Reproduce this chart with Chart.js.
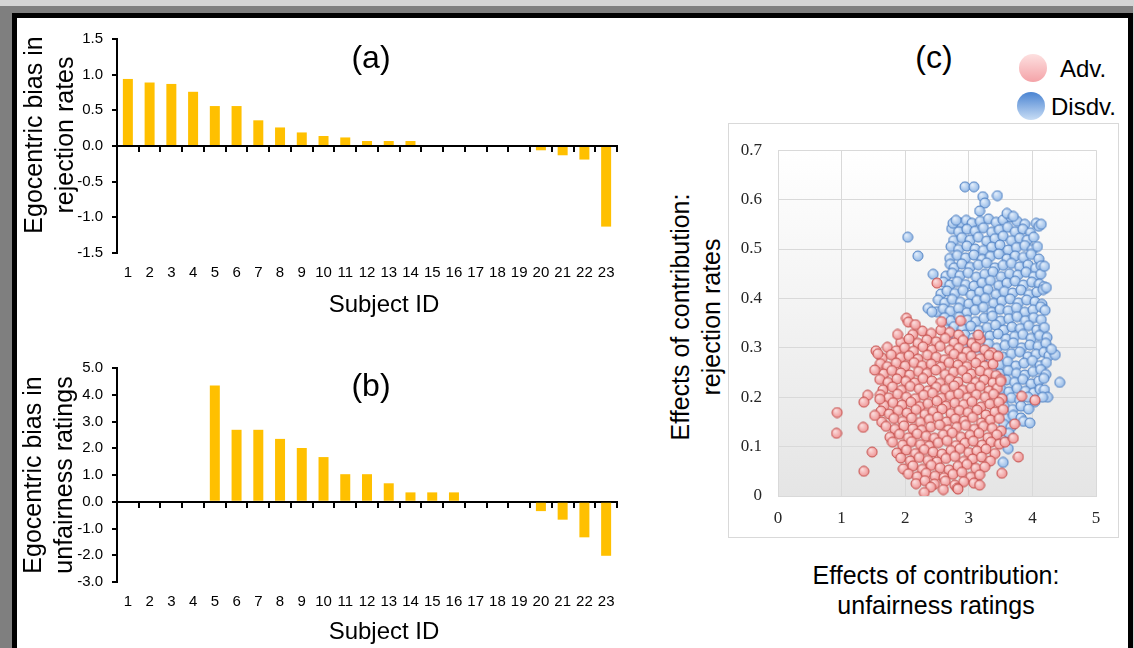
<!DOCTYPE html>
<html>
<head>
<meta charset="utf-8">
<script src="https://cdn.jsdelivr.net/npm/chart.js@4.4.1/dist/chart.umd.min.js"></script>
<style>
  html, body { margin: 0; padding: 0; }
  body { width: 1134px; height: 648px; overflow: hidden; position: relative; background: #7f7f7f; font-family: "Liberation Sans", Arial, sans-serif; }
  .strip-top { position: absolute; left: 0; top: 0; width: 1134px; height: 6px; background: #d4d4d4; }
  .strip-right { position: absolute; left: 1133px; top: 0; width: 1px; height: 648px; background: #d4d4d4; }
  .panel { position: absolute; left: 12px; top: 13px; width: 1121px; height: 700px; box-sizing: border-box; border: 5px solid #000; background: #fff; }
  canvas { position: absolute; }
  .txt { position: absolute; transform: translate(-50%, -50%); white-space: nowrap; line-height: 1; color: #000; text-align: center; }
  .vtxt { position: absolute; transform: translate(-50%, -50%) rotate(-90deg); white-space: nowrap; color: #000; text-align: center; font-size: 25px; }
  .ltxt { position: absolute; transform: translateY(-50%); white-space: nowrap; line-height: 1; font-size: 24px; color: #000; }
  .dot { position: absolute; width: 28px; height: 28px; border-radius: 50%; transform: translate(-50%, -50%); }
  #scatterBox { position: absolute; left: 728px; top: 123px; width: 391px; height: 415px; box-sizing: border-box; border: 1px solid #d9d9d9; background: #fff; }
</style>
</head>
<body>
<div class="strip-top"></div>
<div class="strip-right"></div>
<div class="panel"></div>

<canvas id="chartA" width="620" height="300" style="left:17px;top:18px"></canvas>
<canvas id="chartB" width="620" height="300" style="left:17px;top:347px"></canvas>
<div id="scatterBox"></div>
<canvas id="chartC" width="389" height="413" style="left:729px;top:124px"></canvas>

<div class="txt" style="left:371px;top:57px;font-size:32px">(a)</div>
<div class="txt" style="left:371px;top:385px;font-size:32px">(b)</div>
<div class="txt" style="left:934px;top:57px;font-size:32px">(c)</div>

<div class="vtxt" style="left:49px;top:135px;line-height:31px">Egocentric bias in<br>rejection rates</div>
<div class="vtxt" style="left:48px;top:475px;line-height:31px">Egocentric bias in<br>unfairness ratings</div>
<div class="txt" style="left:384px;top:304px;font-size:24px">Subject ID</div>
<div class="txt" style="left:384px;top:631px;font-size:24px">Subject ID</div>

<div class="vtxt" style="left:696px;top:317px;line-height:31px">Effects of contribution:<br>rejection rates</div>
<div class="txt" style="left:936px;top:590px;font-size:25px;line-height:30px">Effects of contribution:<br>unfairness ratings</div>

<div class="dot" style="left:1033px;top:68px;background:linear-gradient(#fde0e0,#f4a3a8)"></div>
<div class="ltxt" style="left:1060px;top:69px">Adv.</div>
<div class="dot" style="left:1031px;top:106px;background:linear-gradient(#4a84d2,#c8ddf5)"></div>
<div class="ltxt" style="left:1051px;top:107px">Disdv.</div>

<script>
'use strict';

const subjectIds = ['1','2','3','4','5','6','7','8','9','10','11','12','13','14','15','16','17','18','19','20','21','22','23'];

// (a) egocentric bias in rejection rates
const rejectionBias = [0.94, 0.89, 0.87, 0.76, 0.56, 0.56, 0.36, 0.26, 0.19, 0.14, 0.12, 0.07, 0.07, 0.07,
                       0, 0, 0, 0, 0, -0.06, -0.13, -0.19, -1.13];
const rejectionTicks = { min: -1.5, max: 1.5, step: 0.5 };

// (b) egocentric bias in unfairness ratings
const unfairnessBias = [0, 0, 0, 0, 4.35, 2.69, 2.69, 2.35, 2.01, 1.67, 1.03, 1.03, 0.69, 0.35, 0.35, 0.35,
                        0, 0, 0, -0.35, -0.67, -1.33, -2.02];
const unfairnessTicks = { min: -3, max: 5, step: 1 };

// (c) effects of contribution, [unfairness ratings, rejection rates]
const advPoints = [
  [2.12,0.327],[2.27,0.334],[2.41,0.329],[2.56,0.336],[2.70,0.331],[2.84,0.326],
  [1.93,0.311],[2.06,0.318],[2.20,0.309],[2.34,0.316],[2.49,0.312],[2.63,0.319],[2.77,0.310],[2.91,0.315],[3.05,0.309],[3.18,0.317],
  [1.72,0.301],[1.86,0.294],[1.99,0.300],[2.13,0.293],[2.28,0.302],[2.42,0.296],[2.55,0.303],[2.70,0.295],[2.84,0.299],[2.97,0.292],[3.11,0.301],[3.25,0.296],[3.36,0.290],
  [1.64,0.279],[1.78,0.286],[1.93,0.280],[2.06,0.284],[2.20,0.277],[2.35,0.285],[2.49,0.281],[2.62,0.276],[2.77,0.287],[2.90,0.280],[3.04,0.283],[3.18,0.278],[3.32,0.285],
  [1.61,0.268],[1.72,0.262],[1.86,0.269],[2.00,0.263],[2.14,0.270],[2.27,0.264],[2.41,0.267],[2.56,0.261],[2.69,0.270],[2.83,0.265],[2.97,0.262],[3.11,0.269],[3.25,0.263],[3.38,0.267],
  [1.66,0.247],[1.79,0.254],[1.93,0.249],[2.07,0.245],[2.21,0.252],[2.34,0.248],[2.48,0.255],[2.63,0.246],[2.76,0.251],[2.90,0.254],[3.04,0.247],[3.18,0.253],[3.31,0.248],[3.43,0.244],
  [1.60,0.236],[1.73,0.230],[1.87,0.237],[2.01,0.232],[2.15,0.229],[2.28,0.238],[2.42,0.233],[2.55,0.228],[2.70,0.236],[2.83,0.231],[2.97,0.239],[3.11,0.230],[3.24,0.235],[3.38,0.229],[3.50,0.236],
  [1.65,0.215],[1.80,0.221],[1.94,0.214],[2.08,0.222],[2.22,0.217],[2.36,0.213],[2.49,0.220],[2.63,0.216],[2.77,0.223],[2.91,0.214],[3.04,0.219],[3.18,0.222],[3.32,0.213],[3.45,0.218],
  [1.61,0.205],[1.74,0.199],[1.88,0.206],[2.02,0.200],[2.16,0.197],[2.29,0.204],[2.43,0.208],[2.57,0.198],[2.71,0.203],[2.84,0.207],[2.98,0.199],[3.12,0.205],[3.26,0.200],[3.39,0.206],[3.52,0.197],
  [1.67,0.183],[1.81,0.189],[1.95,0.184],[2.09,0.190],[2.23,0.181],[2.36,0.187],[2.50,0.192],[2.64,0.182],[2.78,0.188],[2.92,0.185],[3.05,0.191],[3.19,0.180],[3.33,0.186],[3.47,0.190],
  [1.62,0.172],[1.75,0.166],[1.89,0.173],[2.03,0.168],[2.17,0.175],[2.31,0.165],[2.44,0.171],[2.58,0.176],[2.72,0.167],[2.85,0.173],[2.99,0.169],[3.13,0.174],[3.27,0.164],[3.41,0.170],[3.54,0.175],
  [1.63,0.150],[1.82,0.157],[1.96,0.151],[2.10,0.158],[2.24,0.149],[2.38,0.155],[2.51,0.160],[2.65,0.150],[2.79,0.156],[2.93,0.152],[3.06,0.159],[3.20,0.148],[3.34,0.154],[3.48,0.157],
  [1.70,0.141],[1.84,0.135],[1.98,0.142],[2.12,0.136],[2.26,0.133],[2.40,0.140],[2.54,0.144],[2.68,0.134],[2.81,0.139],[2.95,0.143],[3.09,0.135],[3.23,0.141],[3.37,0.137],[3.51,0.132],
  [1.76,0.119],[1.91,0.125],[2.05,0.118],[2.19,0.126],[2.33,0.121],[2.46,0.117],[2.60,0.124],[2.74,0.128],[2.88,0.119],[3.02,0.123],[3.16,0.127],[3.30,0.118],[3.44,0.124],
  [1.80,0.109],[1.96,0.103],[2.10,0.110],[2.24,0.104],[2.38,0.101],[2.52,0.108],[2.66,0.112],[2.80,0.102],[2.94,0.107],[3.07,0.111],[3.21,0.103],[3.35,0.109],[3.48,0.105],
  [1.87,0.087],[2.02,0.093],[2.16,0.086],[2.30,0.094],[2.44,0.089],[2.58,0.085],[2.72,0.092],[2.86,0.096],[3.00,0.088],[3.13,0.091],[3.27,0.095],[3.41,0.086],
  [1.93,0.077],[2.08,0.071],[2.22,0.078],[2.36,0.072],[2.50,0.069],[2.64,0.076],[2.78,0.080],[2.92,0.070],[3.06,0.075],[3.20,0.079],[3.34,0.071],
  [1.97,0.055],[2.12,0.061],[2.27,0.054],[2.41,0.062],[2.55,0.057],[2.69,0.053],[2.83,0.060],[2.97,0.064],[3.11,0.056],[3.25,0.059],
  [2.05,0.045],[2.19,0.039],[2.33,0.046],[2.47,0.040],[2.61,0.037],[2.75,0.044],[2.89,0.048],[3.03,0.038],[3.17,0.043],
  [2.17,0.025],[2.31,0.031],[2.46,0.024],[2.63,0.030],[2.78,0.022],[2.92,0.029],[3.08,0.026],
  [2.40,0.018],[2.60,0.013],[2.82,0.016],
  [0.93,0.169],[0.92,0.127],[1.35,0.050],[1.34,0.139],[1.41,0.204],[1.35,0.190],[1.48,0.089],[1.52,0.163],
  [1.52,0.255],[1.54,0.294],[1.57,0.288],[1.60,0.196],[1.88,0.327],[2.02,0.360],[2.05,0.352],[2.16,0.347],
  [2.50,0.431],[2.57,0.353],[2.87,0.355],[3.15,0.326],[3.46,0.283],[3.50,0.232],[3.83,0.202],[4.04,0.194],
  [3.78,0.079],[3.52,0.046],[2.30,0.007],[2.83,0.014],[3.17,0.022],[3.57,0.109],[3.70,0.117],[3.72,0.146]
];

const disPoints = [
  [2.86,0.553],[2.96,0.558],[3.05,0.552],[3.18,0.556],[3.31,0.561],[3.43,0.554],[3.54,0.559],[3.66,0.565],[3.76,0.556],[3.88,0.550],[4.06,0.552],[4.10,0.546],
  [2.73,0.541],[2.84,0.535],[2.97,0.540],[3.10,0.536],[3.23,0.543],[3.36,0.534],[3.48,0.539],[3.61,0.544],[3.73,0.535],[3.85,0.540],[3.97,0.533],
  [2.76,0.517],[2.89,0.523],[3.02,0.518],[3.15,0.524],[3.28,0.516],[3.41,0.521],[3.54,0.526],[3.67,0.517],[3.80,0.522],[3.92,0.518],[4.02,0.524],
  [2.72,0.505],[2.84,0.499],[2.97,0.506],[3.10,0.500],[3.23,0.497],[3.36,0.504],[3.49,0.508],[3.62,0.498],[3.75,0.503],[3.88,0.507],[4.00,0.499],[4.08,0.505],
  [2.70,0.481],[2.82,0.487],[2.95,0.482],[3.08,0.488],[3.21,0.479],[3.34,0.485],[3.47,0.490],[3.60,0.480],[3.73,0.486],[3.86,0.483],[3.98,0.489],[4.10,0.480],
  [2.71,0.469],[2.77,0.462],[2.89,0.470],[3.02,0.463],[3.15,0.468],[3.28,0.472],[3.41,0.462],[3.54,0.467],[3.67,0.471],[3.80,0.464],[3.93,0.468],[4.05,0.461],[4.14,0.466],
  [2.64,0.445],[2.74,0.451],[2.86,0.446],[2.99,0.452],[3.12,0.443],[3.25,0.449],[3.38,0.454],[3.51,0.444],[3.64,0.450],[3.77,0.447],[3.90,0.453],[4.02,0.444],[4.13,0.449],
  [2.60,0.433],[2.70,0.427],[2.82,0.434],[2.95,0.428],[3.08,0.425],[3.21,0.432],[3.34,0.436],[3.47,0.426],[3.60,0.431],[3.73,0.435],[3.86,0.427],[3.99,0.433],[4.11,0.429],[4.18,0.424],
  [2.56,0.409],[2.66,0.415],[2.78,0.410],[2.91,0.416],[3.04,0.407],[3.17,0.413],[3.30,0.418],[3.43,0.408],[3.56,0.414],[3.69,0.411],[3.82,0.417],[3.95,0.408],[4.07,0.413],[4.17,0.418],
  [2.52,0.397],[2.62,0.391],[2.74,0.398],[2.87,0.392],[3.00,0.389],[3.13,0.396],[3.26,0.400],[3.39,0.390],[3.52,0.395],[3.65,0.399],[3.78,0.391],[3.91,0.397],[4.04,0.393],[4.15,0.388],
  [2.50,0.373],[2.60,0.379],[2.71,0.374],[2.84,0.380],[2.97,0.371],[3.10,0.377],[3.23,0.382],[3.36,0.372],[3.49,0.378],[3.62,0.375],[3.75,0.381],[3.88,0.372],[4.01,0.377],[4.13,0.383],[4.20,0.376],
  [2.62,0.361],[2.72,0.355],[2.85,0.362],[2.98,0.356],[3.11,0.353],[3.24,0.360],[3.37,0.364],[3.50,0.354],[3.63,0.359],[3.76,0.363],[3.89,0.355],[4.02,0.361],[4.14,0.357],
  [2.64,0.337],[2.77,0.343],[2.90,0.338],[3.03,0.344],[3.16,0.335],[3.29,0.341],[3.42,0.346],[3.55,0.336],[3.68,0.342],[3.81,0.339],[3.94,0.345],[4.07,0.336],[4.19,0.341],
  [2.68,0.325],[2.81,0.319],[2.94,0.326],[3.07,0.320],[3.20,0.317],[3.33,0.324],[3.46,0.328],[3.59,0.318],[3.72,0.323],[3.85,0.327],[3.98,0.319],[4.11,0.325],[4.23,0.321],
  [2.92,0.301],[3.05,0.307],[3.18,0.302],[3.31,0.308],[3.44,0.299],[3.57,0.305],[3.70,0.310],[3.83,0.300],[3.96,0.306],[4.09,0.303],[4.21,0.309],
  [3.02,0.289],[3.15,0.283],[3.28,0.290],[3.41,0.284],[3.54,0.281],[3.67,0.288],[3.80,0.292],[3.93,0.282],[4.06,0.287],[4.18,0.291],[4.26,0.284],
  [3.22,0.265],[3.35,0.271],[3.48,0.266],[3.61,0.272],[3.74,0.263],[3.87,0.269],[4.00,0.274],[4.12,0.264],[4.22,0.270],
  [3.36,0.253],[3.49,0.247],[3.62,0.254],[3.75,0.248],[3.88,0.245],[4.01,0.252],[4.13,0.256],[4.21,0.246],
  [3.46,0.229],[3.59,0.235],[3.72,0.230],[3.85,0.236],[3.98,0.227],[4.10,0.233],[4.18,0.238],
  [3.50,0.217],[3.63,0.211],[3.76,0.218],[3.89,0.212],[4.02,0.209],[4.12,0.216],
  [3.54,0.193],[3.67,0.199],[3.80,0.194],[3.93,0.200],[4.04,0.191],
  [3.56,0.181],[3.69,0.175],[3.82,0.182],[3.94,0.176],
  [3.58,0.157],[3.70,0.163],[3.82,0.158],
  [3.55,0.145],[3.66,0.139],
  [3.52,0.121],[3.63,0.127],
  [2.04,0.524],[2.20,0.486],[2.94,0.626],[3.08,0.626],[3.45,0.608],[3.22,0.606],[3.25,0.593],[3.17,0.577],
  [3.60,0.572],[3.70,0.566],[2.75,0.552],[2.80,0.558],[4.43,0.230],[4.36,0.286],[4.30,0.297],[4.19,0.465],
  [4.22,0.422],[4.14,0.550],[3.86,0.151],[3.96,0.148],[3.62,0.096],[3.54,0.068],[4.19,0.215],[4.24,0.200],
  [4.16,0.200],[2.44,0.449],[2.36,0.380],[2.42,0.373]
];
const scatterX = { min: 0, max: 5, step: 1 };
const scatterY = { min: 0, max: 0.7, step: 0.1 };

const SANS  = '"Liberation Sans", Arial, sans-serif';
const SERIF = '"Liberation Serif", "Times New Roman", serif';
const BAR_GOLD = '#FFC000';

// ── Bar panels ────────────────────────────────────────────────
function drawBarPanel(canvasId, values, range) {
  return new Chart(document.getElementById(canvasId), {
    type: 'bar',
    data: {
      labels: subjectIds,
      datasets: [{
        data: values,
        backgroundColor: BAR_GOLD,
        borderWidth: 0,
        barPercentage: 0.46,
        categoryPercentage: 1,
      }],
    },
    options: {
      responsive: false,
      animation: false,
      layout: { padding: { top: 21, right: 20, left: 0, bottom: 0 } },
      plugins: { legend: { display: false }, tooltip: { enabled: false } },
      scales: {
        x: {
          position: 'bottom',
          grid: { display: false, drawTicks: false },
          border: { display: false },
          ticks: { color: '#000', font: { family: SANS, size: 15 }, padding: 11, maxRotation: 0, autoSkip: false },
          afterFit: s => { s.height = 65; },
        },
        // axis line through zero with the category tick marks
        xZero: {
          axis: 'x',
          type: 'category',
          position: { y: 0 },
          offset: true,
          grid: { drawOnChartArea: false, offset: true, tickLength: 5, color: '#000', lineWidth: 2 },
          border: { color: '#000', width: 2 },
          ticks: { display: false },
        },
        y: {
          min: range.min, max: range.max,
          ticks: { stepSize: range.step, callback: v => Number(v).toFixed(1), color: '#000', font: { family: SANS, size: 15 }, padding: 9 },
          grid: { drawOnChartArea: false, tickLength: 5, color: '#000', lineWidth: 2 },
          border: { color: '#000', width: 2 },
          afterFit: s => { s.width = 100; },
        },
      },
    },
  });
}

drawBarPanel('chartA', rejectionBias, rejectionTicks);
drawBarPanel('chartB', unfairnessBias, unfairnessTicks);

// ── Scatter panel ─────────────────────────────────────────────
function makeBubble(light, fill, edge) {
  const c = document.createElement('canvas');
  c.width = 12; c.height = 12;
  const g = c.getContext('2d');
  const grad = g.createRadialGradient(4.3, 3.8, 0.4, 6, 6, 5.6);
  grad.addColorStop(0, light);
  grad.addColorStop(1, fill);
  g.beginPath();
  g.arc(6, 6, 5, 0, Math.PI * 2);
  g.fillStyle = grad;
  g.fill();
  g.lineWidth = 1;
  g.strokeStyle = edge;
  g.stroke();
  return c;
}

const advBubble = makeBubble('#fbdede', '#ee8f8f', '#c44d4a');
const disBubble = makeBubble('#e3eefb', '#8fb6e6', '#4f80c2');

const plotShade = {
  id: 'plotShade',
  beforeDraw(chart) {
    const { ctx, chartArea: a } = chart;
    const g = ctx.createLinearGradient(0, a.top, 0, a.bottom);
    g.addColorStop(0, '#ffffff');
    g.addColorStop(1, '#e5e5e5');
    ctx.save();
    ctx.fillStyle = g;
    ctx.fillRect(a.left, a.top, a.width, a.height);
    ctx.restore();
  },
};

new Chart(document.getElementById('chartC'), {
  type: 'scatter',
  data: {
    datasets: [
      { label: 'Adv.',   data: advPoints.map(([x, y]) => ({ x, y })), pointStyle: advBubble, pointRadius: 5 },
      { label: 'Disdv.', data: disPoints.map(([x, y]) => ({ x, y })), pointStyle: disBubble, pointRadius: 5 },
    ],
  },
  options: {
    responsive: false,
    animation: false,
    layout: { padding: { top: 17, right: 22, left: 0, bottom: 0 } },
    plugins: { legend: { display: false }, tooltip: { enabled: false } },
    scales: {
      x: {
        type: 'linear',
        min: scatterX.min, max: scatterX.max,
        ticks: { stepSize: scatterX.step, color: '#262626', font: { family: SERIF, size: 17 }, padding: 12 },
        grid: { color: '#d9d9d9', drawTicks: false },
        border: { color: '#d9d9d9' },
        afterFit: s => { s.height = 41; },
      },
      y: {
        min: scatterY.min, max: scatterY.max,
        ticks: { stepSize: scatterY.step, callback: v => (v === 0 ? '0' : Number(v).toFixed(1)),
                 color: '#262626', font: { family: SERIF, size: 17 }, padding: 16 },
        grid: { color: '#d9d9d9', drawTicks: false },
        border: { color: '#d9d9d9' },
        afterFit: s => { s.width = 49; },
      },
    },
  },
  plugins: [plotShade],
});
</script>
</body>
</html>
